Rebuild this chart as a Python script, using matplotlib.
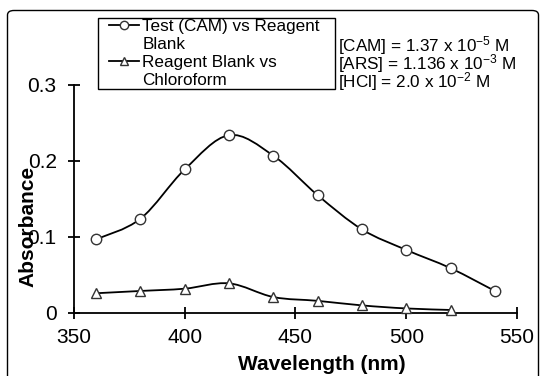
import matplotlib
matplotlib.use("Agg")
import matplotlib.pyplot as plt
import numpy as np
from matplotlib.path import Path
from matplotlib.patches import PathPatch, FancyBboxPatch, Rectangle
from matplotlib.lines import Line2D

plt.rcParams["font.family"] = ["Liberation Sans", "DejaVu Sans"]
plt.rcParams["mathtext.fontset"] = "custom"
plt.rcParams["mathtext.rm"] = "Liberation Sans"
plt.rcParams["mathtext.it"] = "Liberation Sans"

# ── Data ──
wl_test = [360, 380, 400, 420, 440, 460, 480, 500, 520, 540]
abs_test = [0.097, 0.124, 0.189, 0.234, 0.207, 0.155, 0.110, 0.083, 0.059, 0.029]

wl_blank = [360, 380, 400, 420, 440, 460, 480, 500, 520]
abs_blank = [0.026, 0.029, 0.032, 0.039, 0.021, 0.016, 0.010, 0.006, 0.004]

label_test = ["Test (CAM) vs Reagent", "Blank"]
label_blank = ["Reagent Blank vs", "Chloroform"]
conditions = [
    "[CAM] = 1.37 x 10$^{-5}$ M",
    "[ARS] = 1.136 x 10$^{-3}$ M",
    "[HCl] = 2.0 x 10$^{-2}$ M",
]
x_ticks = [350, 400, 450, 500, 550]
y_ticks = [0, 0.1, 0.2, 0.3]
y_ticklabels = ["0", "0.1", "0.2", "0.3"]


def smooth_path(xs, ys):
    """Excel-like smoothed line: Catmull-Rom segments as cubic Beziers."""
    pts = np.column_stack([xs, ys]).astype(float)
    n = len(pts)
    verts = [pts[0]]
    codes = [Path.MOVETO]
    for i in range(n - 1):
        p0 = pts[max(i - 1, 0)]
        p1 = pts[i]
        p2 = pts[i + 1]
        p3 = pts[min(i + 2, n - 1)]
        c1 = p1 + (p2 - p0) / 6.0
        c2 = p2 - (p3 - p1) / 6.0
        verts += [c1, c2, p2]
        codes += [Path.CURVE4] * 3
    return Path(verts, codes)


W, H = 540, 376
fig = plt.figure(figsize=(W / 100, H / 100), dpi=100)
ax = fig.add_axes([74 / W, 1 - 313 / H, (517 - 74) / W, (313 - 85) / H])

# outer rounded frame
frame = FancyBboxPatch((7.5 / W, -0.05), (538.5 - 7.5) / W, 1 - 10.5 / H + 0.05,
                       boxstyle="round,pad=0,rounding_size=0.012",
                       transform=fig.transFigure, facecolor="none",
                       edgecolor="black", linewidth=1.0, zorder=0)
fig.patches.append(frame)

for xs, ys in [(wl_test, abs_test), (wl_blank, abs_blank)]:
    ax.add_patch(PathPatch(smooth_path(xs, ys), facecolor="none",
                           edgecolor="black", linewidth=1.3, clip_on=False))

ax.plot(wl_test, abs_test, linestyle="none", marker="o", markersize=7.5,
        mfc="white", mec="#333333", mew=1.0, clip_on=False, zorder=5)
ax.plot(wl_blank, abs_blank, linestyle="none", marker="^", markersize=7.5,
        mfc="white", mec="#333333", mew=1.0, clip_on=False, zorder=5)

ax.set_xlim(350, 550)
ax.set_ylim(0, 0.3)
ax.set_xticks(x_ticks)
ax.set_yticks(y_ticks)
ax.set_yticklabels(y_ticklabels)
for s in ["top", "right"]:
    ax.spines[s].set_visible(False)
for s in ["left", "bottom"]:
    ax.spines[s].set_linewidth(1.3)
ax.tick_params(direction="inout", length=9, width=1.3, labelsize=15,
               colors="black")
ax.tick_params(axis="x", pad=6)
ax.tick_params(axis="y", pad=8)

ax.set_xlabel("Wavelength (nm)", fontsize=15, fontweight="bold", va="center")
ax.set_ylabel("Absorbance", fontsize=15, fontweight="bold", va="center")
ax.xaxis.set_label_coords((322 - 74) / 443, (313 - 365) / 228)
ax.yaxis.set_label_coords((28 - 74) / 443, (313 - 226) / 228)

# legend box drawn separately, entries as four rows
# (markers only on the first line of each label)
fig.patches.append(Rectangle((98 / W, 1 - 89 / H), (335 - 98) / W, (89 - 18) / H,
                             transform=fig.transFigure, facecolor="white",
                             edgecolor="black", linewidth=1.0, zorder=1))
h_test = Line2D([], [], color="black", lw=1.3, marker="o", markersize=6,
                mfc="white", mec="#333333")
h_blank = Line2D([], [], color="black", lw=1.3, marker="^", markersize=6,
                 mfc="white", mec="#333333")
h_none = Line2D([], [], color="none")
leg = fig.legend([h_test, h_none, h_blank, h_none],
                 [label_test[0], label_test[1], label_blank[0], label_blank[1]],
                 loc="upper left", bbox_to_anchor=(109 / W, 1 - 19 / H),
                 fontsize=12.3, frameon=False, handlelength=1.75,
                 handletextpad=0.2, labelspacing=0.17, borderpad=0,
                 borderaxespad=0)

for i, txt in enumerate(conditions):
    fig.text(338 / W, 1 - (46 + 18 * i) / H, txt, fontsize=12.3,
             ha="left", va="center")

fig.savefig("out.png", dpi=100)
